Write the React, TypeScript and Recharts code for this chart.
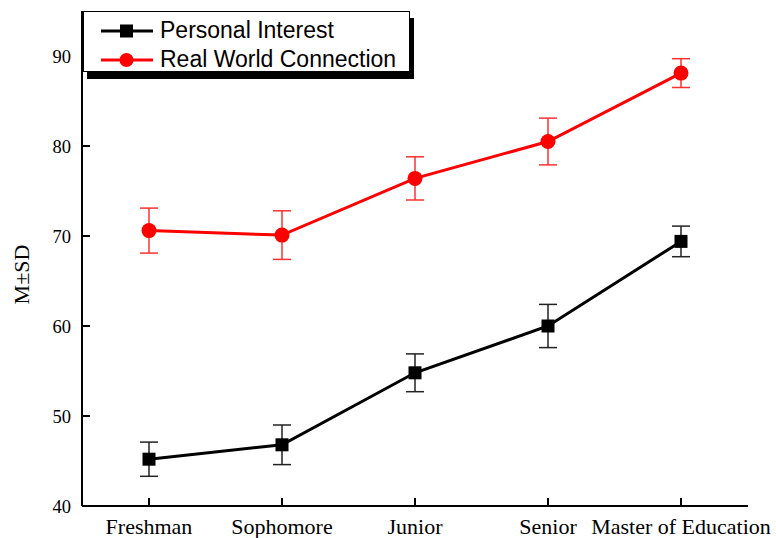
import { ErrorBar, Line, LineChart, XAxis, YAxis } from 'recharts'

const categories = ['Freshman', 'Sophomore', 'Junior', 'Senior', 'Master of Education']
const personalInterest = [45.2, 46.8, 54.8, 60.0, 69.4]
const personalInterestSd = [1.9, 2.2, 2.1, 2.4, 1.7]
const realWorld = [70.6, 70.1, 76.4, 80.5, 88.1]
const realWorldSd = [2.5, 2.7, 2.4, 2.6, 1.6]
const seriesNames = ['Personal Interest', 'Real World Connection']
const yTicks = [40, 50, 60, 70, 80, 90]
const yMinorTicks = [45, 55, 65, 75, 85]
const xMinorTicks = [1, 2, 3, 4]

const data = categories.map((name, i) => ({
  name,
  pi: personalInterest[i],
  piSd: personalInterestSd[i],
  rw: realWorld[i],
  rwSd: realWorldSd[i],
}))

const serif = '"Liberation Serif", "Times New Roman", serif'
const sans = '"Liberation Sans", Arial, sans-serif'

// eslint-disable-next-line @typescript-eslint/no-explicit-any
function SquareDot(props: any) {
  const { cx, cy, index } = props
  if (cx == null || cy == null) return null
  return <rect key={`sq-${index}`} x={cx - 6.5} y={cy - 6.5} width={13} height={13} fill="#000" />
}

// eslint-disable-next-line @typescript-eslint/no-explicit-any
function YLabel(props: any) {
  const { viewBox } = props
  const x = viewBox.x + 21
  const y = viewBox.y + viewBox.height / 2 + 16
  return (
    <text
      x={x}
      y={y}
      transform={`rotate(-90 ${x} ${y})`}
      textAnchor="middle"
      dominantBaseline="central"
      fontFamily={serif}
      fontSize={22}
      fill="#000"
    >
      M±SD
    </text>
  )
}

function ChartLegend() {
  return (
    <div
      style={{
        position: 'absolute',
        left: 83,
        top: 11,
        width: 327,
        height: 61,
        background: '#fff',
        border: '1px solid #000',
        boxSizing: 'border-box',
        boxShadow: '4px 7px 0 #000',
      }}
    >
      <svg width={327} height={61} style={{ display: 'block' }}>
        <line x1={17} x2={69} y1={19} y2={19} stroke="#000" strokeWidth={3} />
        <rect x={36} y={12.5} width={13} height={13} fill="#000" />
        <text x={76} y={26} fontFamily={sans} fontSize={23} fill="#000">
          {seriesNames[0]}
        </text>
        <line x1={17} x2={69} y1={48} y2={48} stroke="#ff0000" strokeWidth={3} />
        <circle cx={42.5} cy={48} r={7} fill="#ff0000" />
        <text x={76} y={55} fontFamily={sans} fontSize={23} fill="#000">
          {seriesNames[1]}
        </text>
      </svg>
    </div>
  )
}

export default function App() {
  return (
    <div style={{ position: 'relative', width: 776, height: 538, background: '#fff' }}>
      <style>{'body{margin:0}'}</style>
      <LineChart width={776} height={538} data={data} margin={{ top: 11, right: 28, bottom: 0, left: 0 }}>
        <XAxis
          dataKey="name"
          height={32}
          padding={{ left: 67, right: 67 }}
          axisLine={{ stroke: '#000', strokeWidth: 2 }}
          tickLine={{ stroke: '#000', strokeWidth: 2 }}
          tickSize={-8}
          tickMargin={20}
          tick={{ fill: '#000', fontFamily: serif, fontSize: 22 }}
          interval={0}
        />
        <XAxis
          xAxisId="minorX"
          type="number"
          domain={[0, 5]}
          ticks={xMinorTicks}
          mirror
          tick={false}
          tickSize={4}
          axisLine={false}
          tickLine={{ stroke: '#000', strokeWidth: 2 }}
        />
        <XAxis
          xAxisId="top"
          orientation="top"
          type="number"
          domain={[0, 1]}
          height={0}
          tick={false}
          tickLine={false}
          axisLine={{ stroke: '#000', strokeWidth: 2 }}
        />
        <YAxis
          width={82}
          domain={[40, 95]}
          ticks={yTicks}
          axisLine={{ stroke: '#000', strokeWidth: 2 }}
          tickLine={{ stroke: '#000', strokeWidth: 2 }}
          tickSize={-8}
          tickMargin={19}
          tick={{ fill: '#000', fontFamily: serif, fontSize: 18.5 }}
          label={<YLabel />}
        />
        <YAxis
          yAxisId="minorY"
          domain={[40, 95]}
          ticks={yMinorTicks}
          mirror
          tick={false}
          tickSize={4}
          axisLine={false}
          tickLine={{ stroke: '#000', strokeWidth: 2 }}
        />
        <YAxis
          yAxisId="right"
          orientation="right"
          width={0}
          domain={[0, 1]}
          tick={false}
          tickLine={false}
          axisLine={{ stroke: '#000', strokeWidth: 2 }}
        />
        <Line
          dataKey="pi"
          name={seriesNames[0]}
          stroke="#000"
          strokeWidth={3}
          dot={<SquareDot />}
          activeDot={false}
          isAnimationActive={false}
        >
          <ErrorBar dataKey="piSd" direction="y" width={9} stroke="#222" strokeWidth={1.5} />
        </Line>
        <Line
          dataKey="rw"
          name={seriesNames[1]}
          stroke="#ff0000"
          strokeWidth={3}
          dot={{ r: 7.5, fill: '#ff0000', stroke: '#ff0000', strokeWidth: 0 }}
          activeDot={false}
          isAnimationActive={false}
        >
          <ErrorBar dataKey="rwSd" direction="y" width={9} stroke="#ff3030" strokeWidth={1.5} />
        </Line>
      </LineChart>
      <ChartLegend />
    </div>
  )
}
